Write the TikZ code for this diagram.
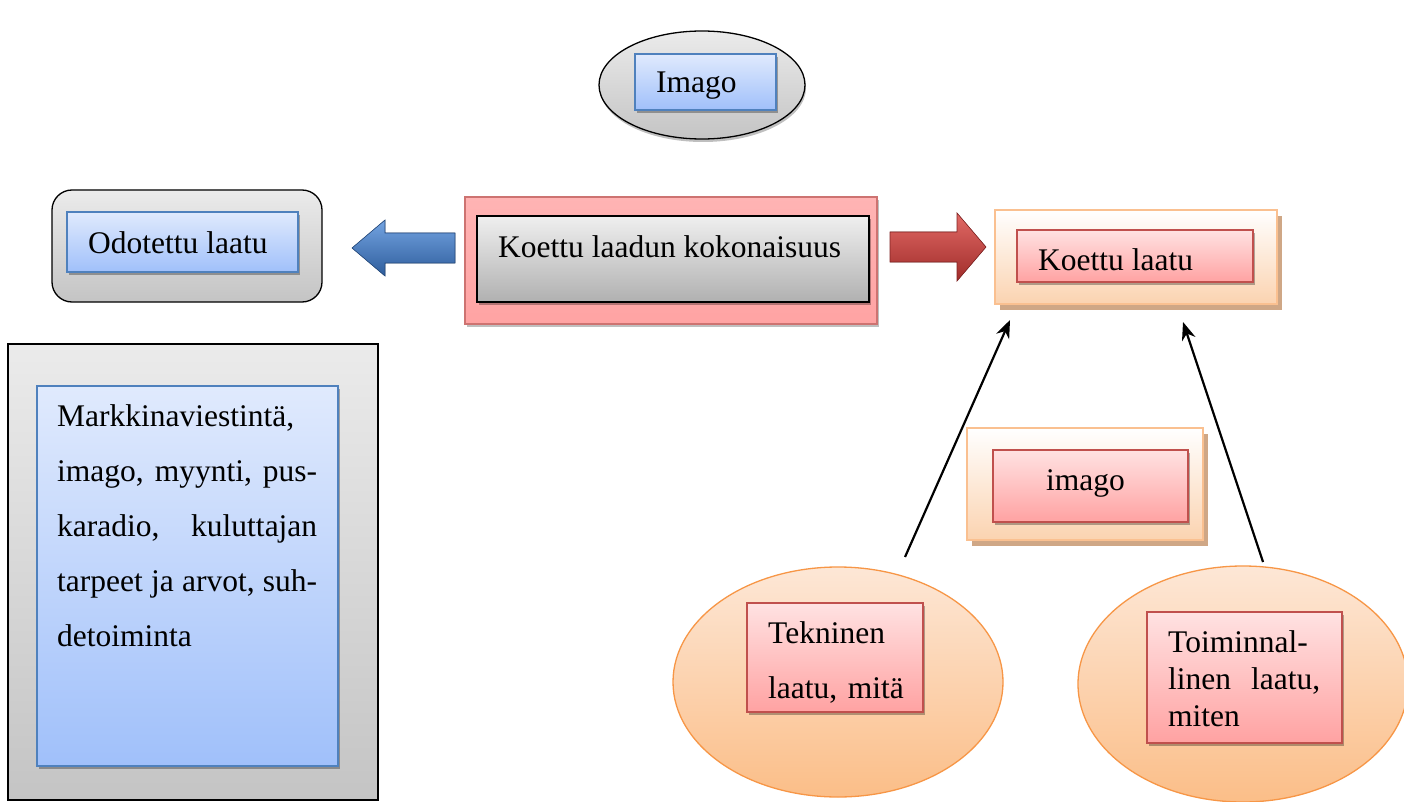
\documentclass[tikz,border=0pt]{standalone}
\usepackage{fontspec}
\setmainfont{Liberation Serif}
\usetikzlibrary{shadows,shapes.geometric,arrows.meta}
\definecolor{grayA}{HTML}{EBEBEB}
\definecolor{grayB}{HTML}{C4C4C4}
\definecolor{blueA}{HTML}{E0EAFD}
\definecolor{blueB}{HTML}{A0C0FA}
\definecolor{blueL}{HTML}{4F81BD}
\definecolor{pinkA}{HTML}{FFE2E2}
\definecolor{pinkB}{HTML}{FFA2A2}
\definecolor{pinkL}{HTML}{C0504D}
\definecolor{pinkO}{HTML}{FFB4B4}
\definecolor{pinkO2}{HTML}{FFA3A3}
\definecolor{orangeL}{HTML}{FAC090}
\definecolor{orangeB}{HTML}{FBD3B0}
\definecolor{tanS}{HTML}{CFA786}
\definecolor{ellA}{HTML}{FDE7D6}
\definecolor{ellB}{HTML}{FBBE88}
\definecolor{ellL}{HTML}{F79646}
\definecolor{arrBlueA}{HTML}{74A4E2}
\definecolor{arrBlueB}{HTML}{2E5D9C}
\definecolor{arrRedA}{HTML}{E26A66}
\definecolor{arrRedB}{HTML}{A02C2A}
\tikzset{
  box/.style={rectangle, inner sep=0pt},
  grayouter/.style={draw=black, line width=1.3pt, top color=grayA, bottom color=grayB},
  bluebox/.style={box, draw=blueL, line width=1.3pt, top color=blueA, bottom color=blueB,
    drop shadow={shadow xshift=2pt, shadow yshift=-3pt, opacity=.3, fill=black}},
  pinkbox/.style={box, draw=pinkL, line width=1.3pt, top color=pinkA, bottom color=pinkB,
    drop shadow={shadow xshift=2pt, shadow yshift=-3pt, opacity=.3, fill=black}},
  orangebox/.style={box, draw=orangeL, line width=1.6pt, top color=white, bottom color=orangeB,
    drop shadow={shadow xshift=5pt, shadow yshift=-6pt, opacity=1, fill=tanS}},
  orangeell/.style={ellipse, inner sep=0pt, draw=ellL, line width=1.3pt, top color=ellA, bottom color=ellB},
  lbl/.style={inner sep=0pt, anchor=base west, font=\fontsize{31.5}{37}\selectfont},
  linkarrow/.style={line width=2.2pt, -{Stealth[length=18pt,width=14pt]}}
}
\begin{document}
\begin{tikzpicture}[x=1pt,y=-1pt]
\useasboundingbox (0,0) rectangle (1404,802);
\fill[white] (0,0) rectangle (1404,802);
\clip (0,0) rectangle (1404,802);

% Imago ellipse
\node[ellipse, inner sep=0pt, grayouter, minimum width=206pt, minimum height=108pt,
  drop shadow={shadow xshift=1pt, shadow yshift=-3pt, opacity=.25, fill=black}] (imagoEll) at (702,85) {};
\node[bluebox, minimum width=141pt, minimum height=56pt] (imagoBox) at (705.5,82) {};
\node[lbl] (imagoTxt) at (656,93) {Imago};

% Odotettu laatu
\node[box, grayouter, rounded corners=20pt, minimum width=270pt, minimum height=112pt] (odotOut) at (187,246) {};
\node[bluebox, minimum width=231pt, minimum height=60pt] (odotBox) at (182.5,242) {};
\node[lbl] (odotTxt) at (88,253) {Odotettu laatu};

% Koettu laadun kokonaisuus
\node[box, draw=pinkL!80, line width=1.3pt, top color=pinkO, bottom color=pinkO2,
  drop shadow={shadow xshift=2pt, shadow yshift=-3pt, opacity=.25, fill=black},
  minimum width=412pt, minimum height=127pt] (kokoOut) at (671,260.5) {};
\node[box, draw=black, line width=1.6pt, top color=grayA!80!white, bottom color=grayB!90!black,
  drop shadow={shadow xshift=2pt, shadow yshift=-3pt, opacity=.3, fill=black},
  minimum width=392pt, minimum height=86pt] (kokoBox) at (673,259) {};
\node[lbl] (kokoTxt) at (498,258) {Koettu laadun kokonaisuus};

% Koettu laatu
\node[orangebox, minimum width=282pt, minimum height=94pt] (koettuOut) at (1136,257) {};
\node[pinkbox, minimum width=236pt, minimum height=52pt] (koettuBox) at (1135,256) {};
\node[lbl] (koettuTxt) at (1038,270) {Koettu laatu};

% imago (right)
\node[orangebox, minimum width=236pt, minimum height=112pt] (imago2Out) at (1085,484) {};
\node[pinkbox, minimum width=195pt, minimum height=72pt] (imago2Box) at (1090.5,486) {};
\node[lbl] (imago2Txt) at (1046,490) {imago};

% Markkinaviestinta
\node[box, grayouter, minimum width=370pt, minimum height=456pt] (markOut) at (193,572) {};
\node[bluebox, minimum width=301pt, minimum height=380pt] (markBox) at (187.5,576) {};
\node[lbl, text width=260pt, align=justify, font=\fontsize{31.5}{55}\selectfont] (markTxt) at (57,426)
  {\hyphenpenalty=10000\tolerance=10000 Markkinaviestintä,\linebreak imago, myynti, pus-\linebreak karadio, kuluttajan\linebreak tarpeet ja arvot, suh-\linebreak detoiminta};

% Tekninen
\node[orangeell, minimum width=330pt, minimum height=230pt] (tekEll) at (838,682) {};
\node[pinkbox, minimum width=176pt, minimum height=109pt] (tekBox) at (835,657.5) {};
\node[lbl, text width=160pt, align=left, font=\fontsize{31.5}{55}\selectfont] (tekTxt) at (768,643)
  {Tekninen\\laatu, mitä};

% Toiminnallinen
\node[orangeell, minimum width=330pt, minimum height=236pt] (toimEll) at (1243,684) {};
\node[pinkbox, minimum width=195pt, minimum height=131pt] (toimBox) at (1244.5,677.5) {};
\node[lbl, text width=152pt, align=justify, font=\fontsize{31.5}{37}\selectfont] (toimTxt) at (1168,652)
  {\hyphenpenalty=10000\tolerance=10000 Toiminnal-\linebreak linen laatu,\linebreak miten};

% block arrows
\coordinate (bTailT) at (455,233);
\coordinate (bTailB) at (455,263);
\coordinate (bTip) at (352,248);
\fill[top color=arrBlueA, bottom color=arrBlueB, draw=arrBlueB!80!black, line width=0.6pt]
  (bTailT) -- (385,233) -- (385,220) -- (bTip) -- (385,276) -- (385,263) -- (bTailB) -- cycle;
\coordinate (rTailT) at (890,232);
\coordinate (rTailB) at (890,262);
\coordinate (rTip) at (986,247);
\fill[top color=arrRedA, bottom color=arrRedB, draw=arrRedB!80!black, line width=0.6pt]
  (rTailT) -- (957,232) -- (957,213) -- (rTip) -- (957,281) -- (957,262) -- (rTailB) -- cycle;

% link arrows
\coordinate (l1s) at (905,557);
\coordinate (l1e) at (1010,320);
\coordinate (l2s) at (1263,562);
\coordinate (l2e) at (1183,322);
\draw[linkarrow] (l1s) -- (l1e);
\draw[linkarrow] (l2s) -- (l2e);
\end{tikzpicture}
\end{document}
